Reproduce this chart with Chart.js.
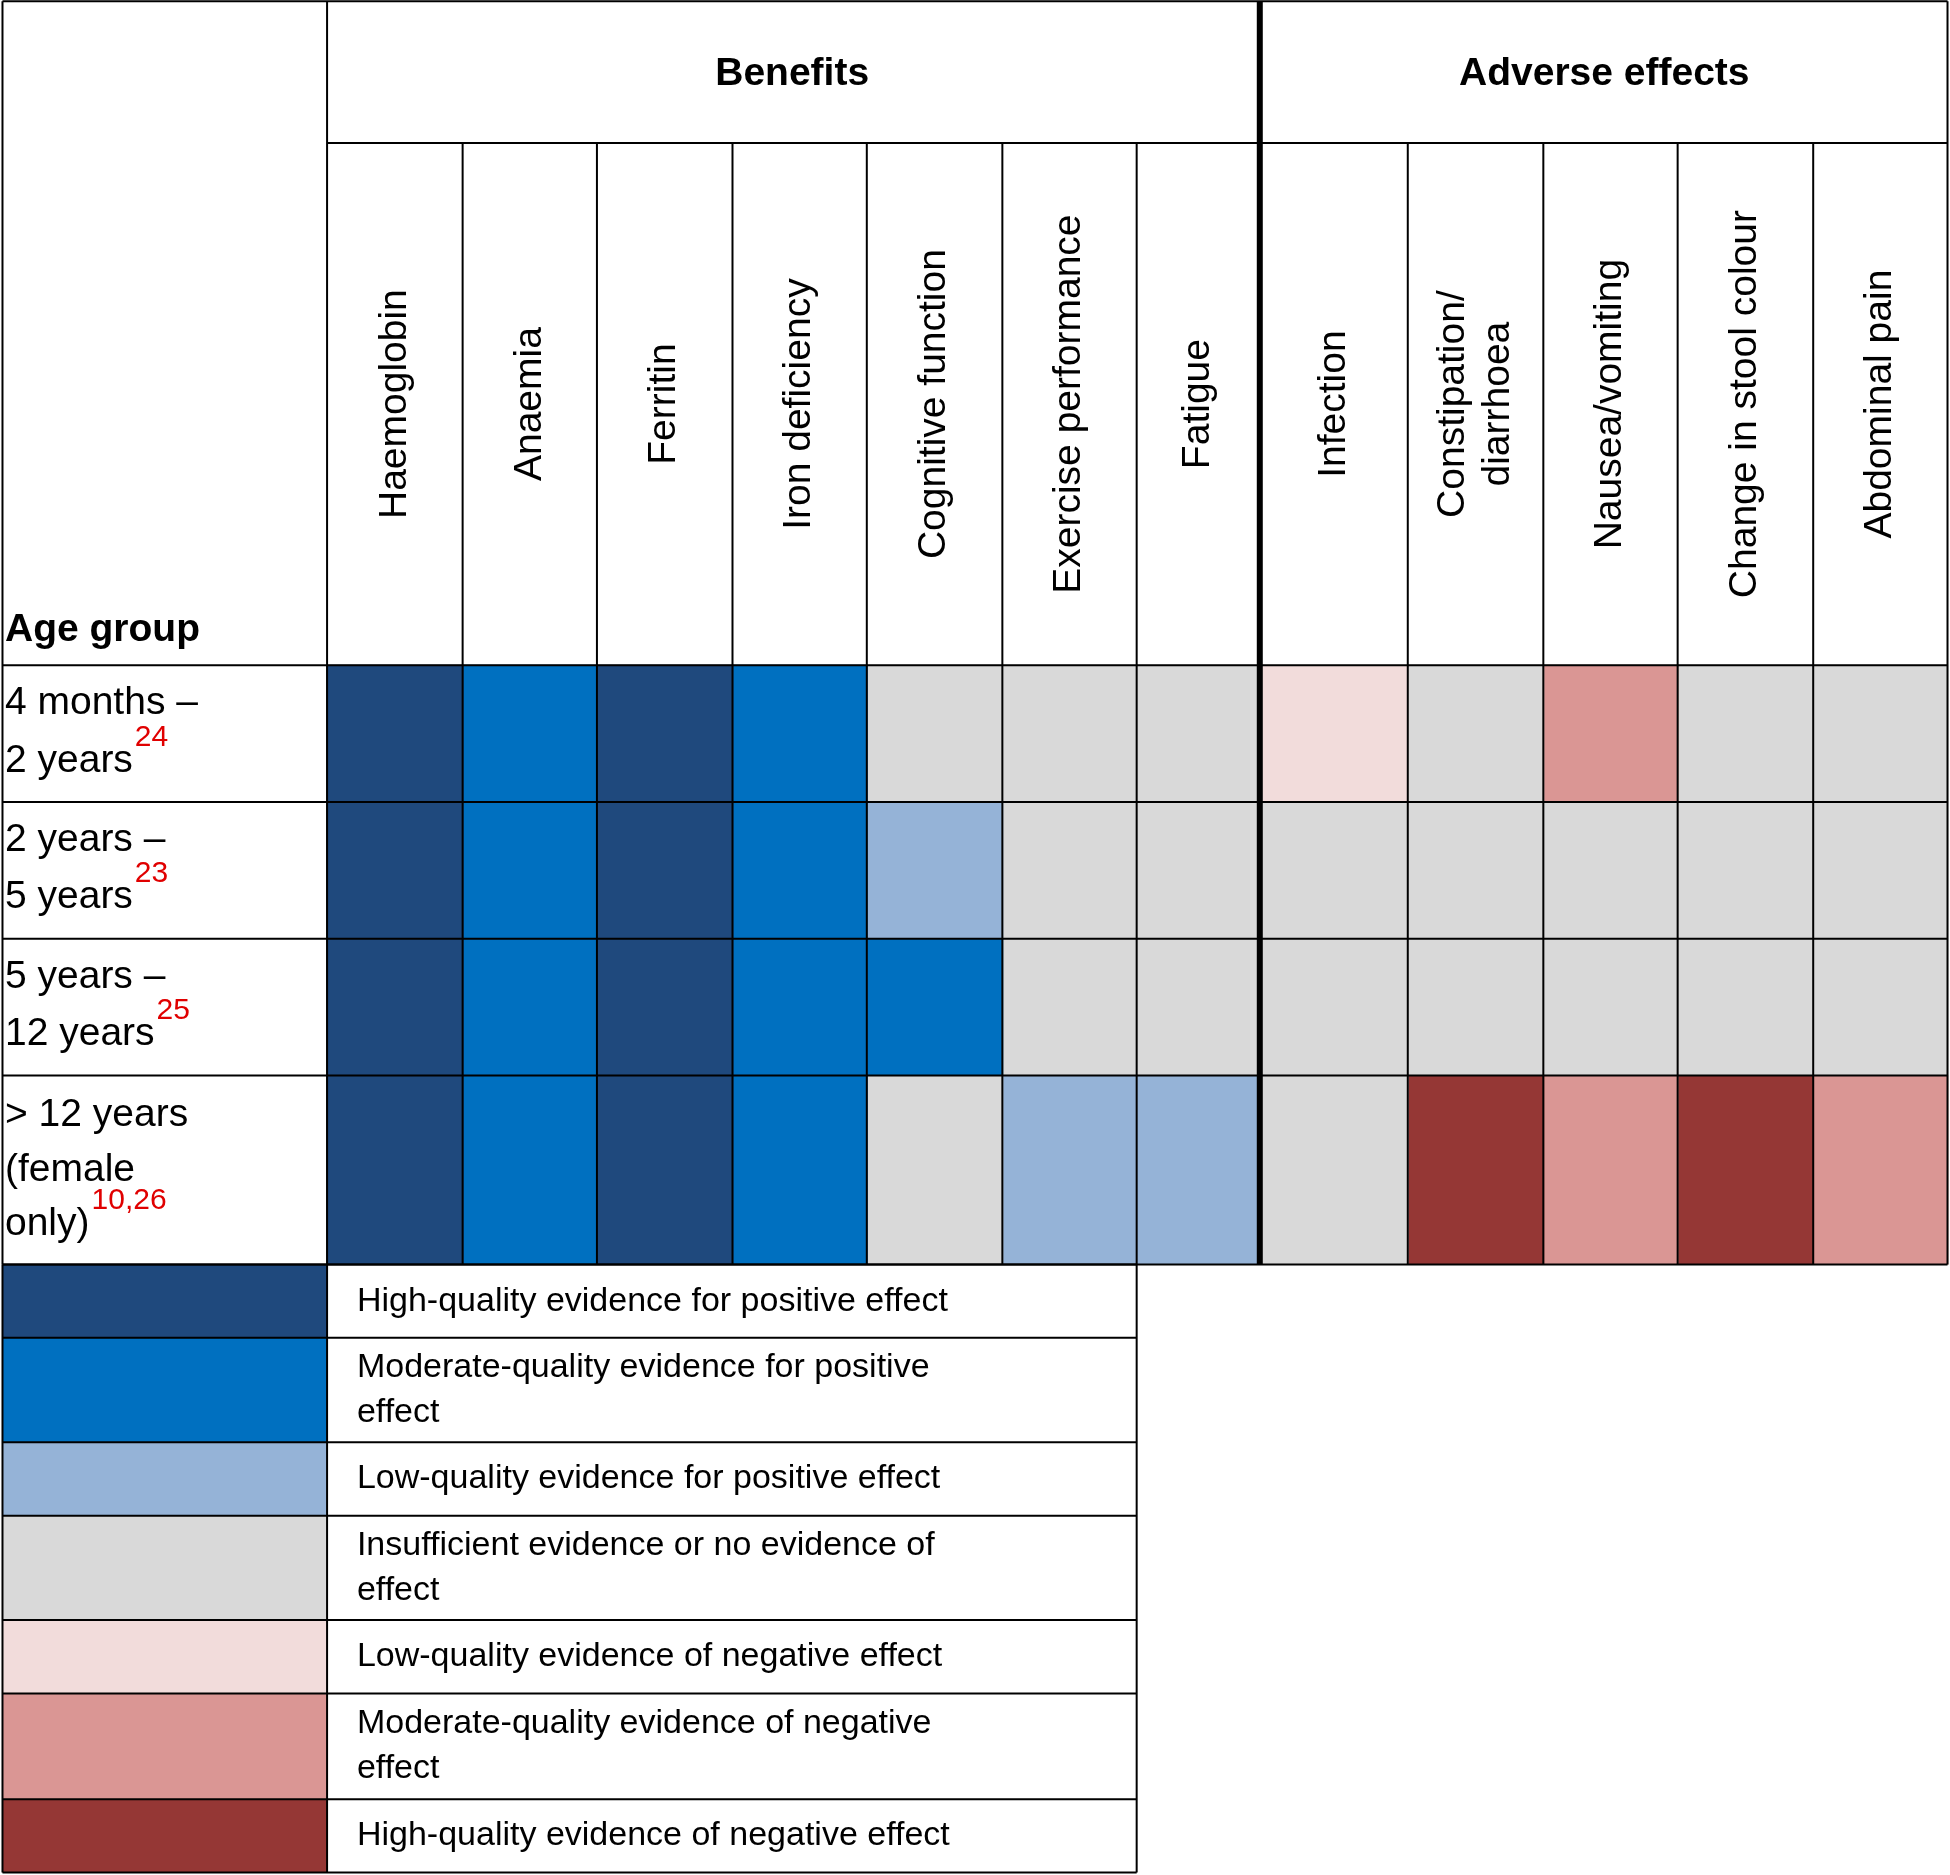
<!DOCTYPE html>
<html><head><meta charset="utf-8">
<script src="https://cdn.jsdelivr.net/npm/chart.js@4"></script>
<style>body{margin:0;background:#fff}#wrap{width:1950px;height:1875px}</style>
</head><body><div id="wrap"><canvas id="c"></canvas></div>
<script>
const benefits = ['Haemoglobin','Anaemia','Ferritin','Iron deficiency','Cognitive function','Exercise performance','Fatigue'];
const adverse = ['Infection','Constipation/\ndiarrhoea','Nausea/vomiting','Change in stool colour','Abdominal pain'];
const ageGroups = [['4 months –','2 years'],['2 years –','5 years'],['5 years –','12 years'],['> 12 years','(female','only)']];
const refs = ['24','23','25','10,26'];
// evidence level per cell: 0 high+,1 mod+,2 low+,3 insufficient,4 low-,5 mod-,6 high-
const grid = [
  [0,1,0,1,3,3,3, 4,3,5,3,3],
  [0,1,0,1,2,3,3, 3,3,3,3,3],
  [0,1,0,1,1,3,3, 3,3,3,3,3],
  [0,1,0,1,3,2,2, 3,6,5,6,5]
];
const levelColors = ['#1f497d','#0070c0','#95b3d7','#d9d9d9','#f2dcdb','#da9694','#953735'];
const legendLabels = [['High-quality evidence for positive effect'],['Moderate-quality evidence for positive','effect'],['Low-quality evidence for positive effect'],['Insufficient evidence or no evidence of','effect'],['Low-quality evidence of negative effect'],['Moderate-quality evidence of negative','effect'],['High-quality evidence of negative effect']];

// layout (in the 1568x1508 design units used by the scales)
const colEdges = [263,372,480,589,697,806,914,1013,1132,1241,1349,1458,1566];
const rowEdges = [535,645,755,865,1017];
const legEdges = [1017,1076,1160,1219,1303,1362,1447,1506];
const S = 1950/1568;

const datasets = colEdges.slice(0,-1).map((x0,c)=>({
  data: grid.map((row,r)=>({x:(x0+colEdges[c+1])/2, y:[rowEdges[r],rowEdges[r+1]]})),
  backgroundColor: grid.map(row=>levelColors[row[c]]),
  barThickness: (colEdges[c+1]-x0)*S + 1,
  grouped:false, borderWidth:0
}));

const deco = {
  id:'deco',
  afterDatasetsDraw(chart){
    const ctx = chart.ctx, X = v=>chart.scales.x.getPixelForValue(v), Y = v=>chart.scales.y.getPixelForValue(v);
    levelColors.forEach((col,i)=>{ctx.fillStyle=col;ctx.fillRect(X(2),Y(legEdges[i]),X(263)-X(2),Y(legEdges[i+1])-Y(legEdges[i]));});
    ctx.strokeStyle='#000';
    const line=(x1,y1,x2,y2,w)=>{ctx.lineWidth=w||2;ctx.beginPath();ctx.moveTo(X(x1),Y(y1));ctx.lineTo(X(x2),Y(y2));ctx.stroke();};
    line(2,1,1566,1); line(2,1,2,1017); line(1566,1,1566,1017);
    line(263,1,263,1017); line(263,115,1566,115);
    colEdges.slice(1,-1).forEach(x=>{ if(x===1013) line(x,1,x,1017,6); else line(x,115,x,1017); });
    rowEdges.forEach(y=>line(2,y,1566,y));
    legEdges.forEach(y=>line(2,y,914,y));
    line(2,1017,2,1506); line(263,1017,263,1506); line(914,1017,914,1506);
    ctx.fillStyle='#000'; ctx.textAlign='center'; ctx.textBaseline='middle';
    ctx.font='bold '+Math.round(31*S)+'px "Liberation Sans", Arial';
    ctx.fillText('Benefits',X(637),Y(60)); ctx.fillText('Adverse effects',X(1290),Y(60));
    ctx.textAlign='left'; ctx.fillText('Age group',X(4),Y(507));
    ctx.font=Math.round(31*S)+'px "Liberation Sans", Arial';
    benefits.concat(adverse).forEach((t,c)=>{
      const cx=(colEdges[c]+colEdges[c+1])/2, lines=t.split('\n');
      ctx.save(); ctx.translate(X(cx),Y(325)); ctx.rotate(-Math.PI/2); ctx.textAlign='center';
      lines.forEach((l,k)=>ctx.fillText(l,0,(k-(lines.length-1)/2)*36*S));
      ctx.restore();
    });
    ctx.textAlign='left';
    ageGroups.forEach((g,r)=>{
      const top=rowEdges[r];
      const start = r<3 ? top+31 : top+32;
      const lh = r<3 ? 46 : 44;
      ctx.font=Math.round(31*S)+'px "Liberation Sans", Arial'; ctx.fillStyle='#000';
      g.forEach((l,k)=>ctx.fillText(l,X(4),Y(start+k*lh)));
      const last=g[g.length-1], w=ctx.measureText(last).width;
      ctx.font=Math.round(24*S)+'px "Liberation Sans", Arial'; ctx.fillStyle='#e00000';
      ctx.fillText(refs[r],X(4)+w+2,Y(start+(g.length-1)*lh-19));
    });
    ctx.fillStyle='#000'; ctx.font=Math.round(27.5*S)+'px "Liberation Sans", Arial';
    legendLabels.forEach((ls,i)=>{
      const mid=(legEdges[i]+legEdges[i+1])/2;
      ls.forEach((l,k)=>ctx.fillText(l,X(287),Y(mid+(k-(ls.length-1)/2)*36)));
    });
  }
};

new Chart(document.getElementById('c'),{
  type:'bar',
  data:{datasets},
  options:{
    responsive:true, maintainAspectRatio:false, animation:false,
    layout:{padding:0},
    plugins:{legend:{display:false},tooltip:{enabled:false}},
    scales:{
      x:{type:'linear',min:0,max:1568,offset:false,display:false},
      y:{type:'linear',min:0,max:1508,reverse:true,display:false}
    }
  },
  plugins:[deco]
});
</script></body></html>
